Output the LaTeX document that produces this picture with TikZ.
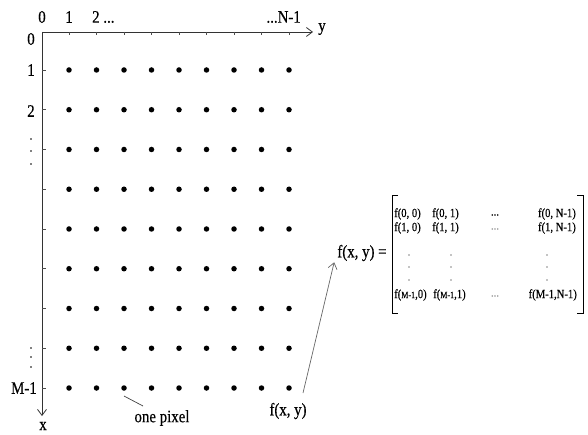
\documentclass[tikz,border=0pt]{standalone}
\usepackage{fontspec}
\setmainfont{Liberation Serif}[FakeStretch=0.85,FakeBold=0.4]
\usetikzlibrary{positioning,arrows.meta}

\begin{document}
\begin{tikzpicture}[x=1pt, y=-1pt, >={Straight Barb[length=6pt,width=9pt]},
  pixel/.style={circle, fill=black, inner sep=0pt, minimum size=5.5pt},
  smalldot/.style={circle, fill=black, inner sep=0pt, minimum size=1.6pt},
  lab/.style={font=\fontsize{17.5}{17.5}\selectfont, inner sep=1pt},
  entry/.style={font=\fontsize{12.5}{12.5}\selectfont, inner sep=0pt},
  axis/.style={->, line width=0.8pt, draw=black!80}]
  \useasboundingbox (0,0) rectangle (588,435);

  % Axes
  \coordinate (O) at (42,32);
  \coordinate (Yend) at (313,32);
  \coordinate (Xend) at (42,416);
  \draw[axis] (O) -- (Yend);
  \draw[axis] (O) -- (Xend);
  \node[lab] (ylab) at (322,29) {y};
  \node[lab] (xlab) at (43,426) {x};

  % Labels on the axes
  \node[lab] (top0) at (42,17) {0};
  \node[lab] (top1) at (69,17) {1};
  \node[lab,anchor=west] (top2) at (91,17) {2 ...};
  \node[lab,anchor=east] (topN) at (302,17) {...N-1};
  \node[lab] (left0) at (31,39) {0};
  \node[lab] (left1) at (31,70) {1};
  \node[lab] (left2) at (31,111) {2};
  \node[lab] (leftM) at (24,388) {M-1};
  \foreach \y in {139,151,164,348,357,367}
    \node[smalldot] at (31,\y) {};

  % Pixels
  \foreach \i in {0,...,8} {
    \draw[black!70, line width=0.6pt] (69+27.5*\i,32) -- ++(0,3);
    \draw[black!70, line width=0.6pt] (42,70+39.75*\i) -- ++(4,0);
    \foreach \j in {0,...,8}
      \node[pixel] (p-\i-\j) at (69+27.5*\j,70+39.75*\i) {};
  }
  \coordinate (pixtip) at (143,406);
  \node[lab] (pixlab) at (162,418) {one pixel};
  \draw[black!75, line width=0.7pt] ([yshift=-8pt]p-8-2.center) -- (pixtip);

  % Matrix
  \node[lab] (fxy) at (288,411) {f(x, y)};
  \node[lab] (fdef) at (362,253) {f(x, y) =};
  \draw[line width=0.7pt] (398,195) -- (392,195) -- (392,313) -- (398,313);
  \draw[line width=0.7pt] (577,195) -- (583,195) -- (583,313) -- (577,313);

  \node[entry,anchor=west] (m00) at (394,214) {f(0, 0)};
  \node[entry,anchor=west] (m01) at (432,214) {f(0, 1)};
  \node[entry] (m02) at (495,215) {...};
  \node[entry,anchor=east] (m03) at (576,214) {f(0, N-1)};
  \node[entry,anchor=west] (m10) at (394,228) {f(1, 0)};
  \node[entry,anchor=west] (m11) at (432,228) {f(1, 1)};
  \node[entry,text=black!40] (m12) at (495,229) {...};
  \node[entry,anchor=east] (m13) at (576,228) {f(1, N-1)};
  \foreach \x in {409,451,547}
    \foreach \y in {255,267,280}
      \node[smalldot, minimum size=1.4pt] at (\x,\y) {};
  \node[entry,anchor=west] (m20) at (394,295) {f({\fontsize{9.5}{9.5}\selectfont M-1},0)};
  \node[entry,anchor=west] (m21) at (433,295) {f({\fontsize{9.5}{9.5}\selectfont M-1},1)};
  \node[entry,text=black!40] (m22) at (495,296) {...};
  \node[entry,anchor=east] (m23) at (577,295) {f(M-1,N-1)};

  % Edges
  \coordinate (tail) at (303,393);
  \draw[->, black!60, line width=0.7pt] (tail) -- ([xshift=-2pt]fdef.south west);
\end{tikzpicture}
\end{document}
